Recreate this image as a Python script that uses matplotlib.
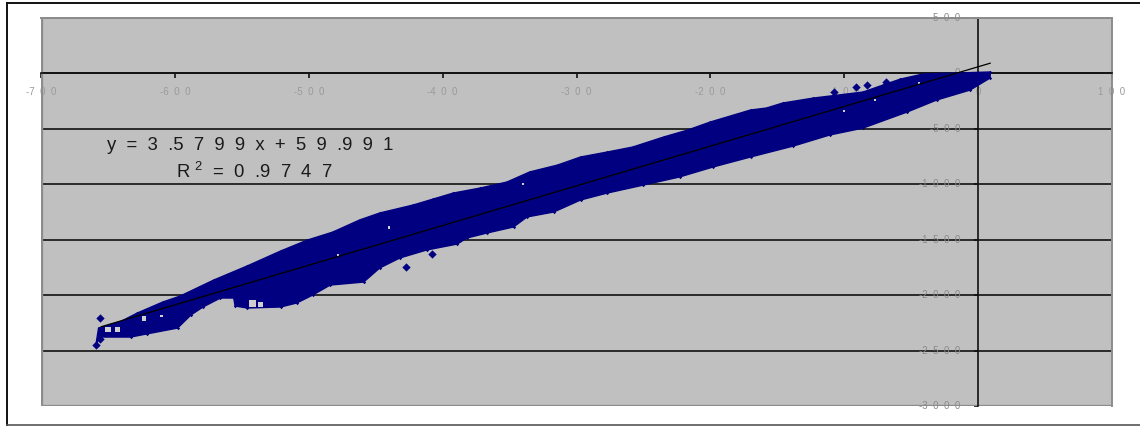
import matplotlib
matplotlib.use("Agg")
import numpy as np
import matplotlib.pyplot as plt
from matplotlib.lines import Line2D

# ---- data ----
x_ticks = [-700, -600, -500, -400, -300, -200, -100, 0, 100]
x_tick_labels = ["-7  0  0", "-6  0  0", "-5  0  0", "-4  0  0", "-3  0  0", "-2  0  0", "-1  0  0", "0", "1  0  0"]
y_ticks = [500, 0, -500, -1000, -1500, -2000, -2500, -3000]
y_tick_labels = ["5  0  0", "0", "-5  0  0", "-1  0  0  0", "-1  5  0  0", "-2  0  0  0", "-2  5  0  0", "-3  0  0  0"]

# upper and lower edge of the dense point cloud
upper_x = [-657, -641, -628, -609, -596, -571, -546, -521, -501, -482, -462, -447, -422, -407, -392,
           -372, -352, -335, -314, -297, -277, -258, -235, -217, -200, -170, -158, -146, -123, -86,
           -71, -58, -41, 9]
upper_y = [-2297, -2241, -2161, -2062, -2008, -1864, -1737, -1602, -1503, -1431, -1322, -1259, -1187,
           -1133, -1079, -1034, -980, -889, -826, -754, -709, -664, -574, -511, -438, -330, -312,
           -267, -222, -168, -105, -51, -5, 13]
lower_x = [-659, -656, -633, -621, -598, -588, -579, -566, -556, -555, -546, -521, -509, -497, -484,
           -459, -447, -432, -412, -389, -382, -367, -347, -337, -317, -297, -277, -250, -223, -198,
           -170, -138, -111, -86, -53, -31, -6, 9]
lower_y = [-2450, -2378, -2378, -2350, -2297, -2179, -2107, -2026, -2026, -2098, -2116, -2107, -2071,
           -1999, -1909, -1882, -1755, -1665, -1593, -1539, -1485, -1440, -1385, -1295, -1250, -1142,
           -1079, -1007, -934, -844, -754, -655, -556, -493, -348, -240, -150, -41]

# isolated points outside the cloud
outlier_x = [-656, -659, -656, -427, -408, -108, -91, -83, -69]
outlier_y = [-2206, -2450, -2400, -1746, -1629, -168, -123, -105, -78]

# small gaps inside the cloud
gap_x = [-650, -643, -623, -610, -542, -536, -478, -440, -340, -100, -77, -44]
gap_y = [-2310, -2310, -2210, -2190, -2075, -2085, -1640, -1390, -1000, -340, -240, -85]
gap_sizes = [14, 14, 12, 3, 22, 12, 3, 3, 3, 3, 3, 3]

trend_slope = 3.5799
trend_intercept = 59.991
trend_x = [-655, 9]

equation = "y  =  3  .5  7  9  9  x  +  5  9  .9  9  1"
r_squared = "R $^{2}$  =  0  .9  7  4  7"

# ---- figure ----
W, H = 1140, 426
plt.rcParams["font.family"] = ["Liberation Sans", "DejaVu Sans"]
plt.rcParams["mathtext.fontset"] = "custom"
plt.rcParams["mathtext.rm"] = "Liberation Sans"
plt.rcParams["mathtext.default"] = "regular"

fig = plt.figure(figsize=(W / 100, H / 100), dpi=100, facecolor="white")
ax = fig.add_axes([41 / W, 1 - 406 / H, (1112 - 41) / W, (406 - 18) / H])
ax.set_facecolor("#c0c0c0")
ax.set_xlim(-700, 100)
ax.set_ylim(-3000, 500)
ax.set_axisbelow(True)

ax.yaxis.grid(True, color="#111111", lw=1.2, zorder=1)
ax.xaxis.grid(False)

for s in ("top", "right"):
    ax.spines[s].set_color("#8c8c8c")
    ax.spines[s].set_linewidth(1.4)
    ax.spines[s].set_zorder(1)
ax.spines["bottom"].set_position(("data", 0))
ax.spines["left"].set_position(("data", 0))
ax.spines["bottom"].set_color("#111111")
ax.spines["left"].set_color("#111111")
ax.spines["bottom"].set_linewidth(1.2)
ax.spines["left"].set_linewidth(1.2)
ax.spines["bottom"].set_zorder(1)
ax.spines["left"].set_zorder(1)

# grey frame of the plot area on the two sides taken by the axis lines
for xa, ya in (([-700, -700], [-3000, 500]), ([-700, 100], [-3000, -3000])):
    ax.plot(xa, ya, color="#8c8c8c", lw=2.4, zorder=1, clip_on=True)

ax.set_xticks(x_ticks)
ax.set_xticklabels(x_tick_labels)
ax.set_yticks(y_ticks)
ax.set_yticklabels(y_tick_labels)
ax.tick_params(axis="x", direction="out", length=3.6, width=1.2, color="#111111",
               labelsize=7, labelcolor="#9a9a9a", pad=6.5)
ax.tick_params(axis="y", direction="out", length=2.9, width=1.2, color="#111111",
               labelsize=7, labelcolor="#8a8a8a", pad=10)
for lab in ax.get_yticklabels():
    lab.set_verticalalignment("center")

# point cloud
blue = "#000080"
cloud_x = upper_x + lower_x[::-1]
cloud_y = upper_y + lower_y[::-1]
ax.fill(cloud_x, cloud_y, color=blue, lw=1.0, zorder=3)
ax.scatter(upper_x + lower_x, upper_y + lower_y, s=3, marker="D", color=blue, lw=0, zorder=3)
ax.scatter(outlier_x, outlier_y, s=18, marker="D", color=blue, lw=0, zorder=3)
ax.scatter(gap_x, gap_y, s=gap_sizes, marker="s", color="#cfcfcf", lw=0, zorder=3.5)

# trend line
tx = np.array(trend_x)
ax.plot(tx, trend_slope * tx + trend_intercept, color="black", lw=0.9, zorder=4)

# trend text
fig.text(250.5 / W, 1 - 146 / H, equation, fontsize=13.3, color="#1a1a1a", ha="center", va="center")
fig.text(254 / W, 1 - 172 / H, r_squared, fontsize=13.3, color="#1a1a1a", ha="center", va="center")

# outer chart frame (open at the right edge)
frame = [([7, 7], [3, 425], "#111111", 1.4), ([7, 1140], [3, 3], "#111111", 1.4),
         ([7, 1140], [425, 425], "#555555", 1.2)]
for fx, fy, c, lw in frame:
    fig.add_artist(Line2D([v / W for v in fx], [1 - v / H for v in fy], color=c, lw=lw))

fig.savefig("out.png", dpi=100, facecolor="white")
